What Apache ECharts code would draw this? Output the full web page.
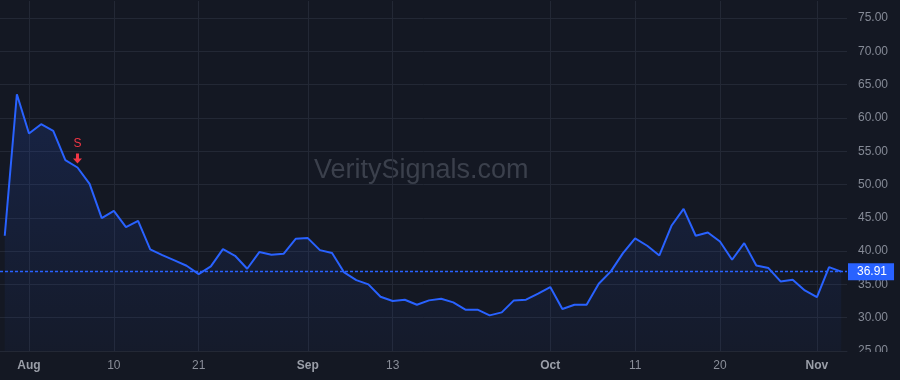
<!DOCTYPE html>
<html>
<head>
<meta charset="utf-8">
<script src="https://cdn.jsdelivr.net/npm/echarts@6/dist/echarts.min.js"></script>
<style>
html,body{margin:0;padding:0;background:#141823;}
#chart{width:900px;height:380px;}
</style>
</head>
<body>
<div id="chart"></div>
<script>
const dates = [
  '2023-07-28','2023-07-31',
  '2023-08-01','2023-08-02','2023-08-03','2023-08-04','2023-08-07','2023-08-08','2023-08-09','2023-08-10','2023-08-11',
  '2023-08-14','2023-08-15','2023-08-16','2023-08-17','2023-08-18','2023-08-21','2023-08-22','2023-08-23','2023-08-24','2023-08-25',
  '2023-08-28','2023-08-29','2023-08-30','2023-08-31',
  '2023-09-01','2023-09-05','2023-09-06','2023-09-07','2023-09-08','2023-09-11','2023-09-12','2023-09-13','2023-09-14','2023-09-15',
  '2023-09-18','2023-09-19','2023-09-20','2023-09-21','2023-09-22','2023-09-25','2023-09-26','2023-09-27','2023-09-28','2023-09-29',
  '2023-10-02','2023-10-03','2023-10-04','2023-10-05','2023-10-06','2023-10-09','2023-10-10','2023-10-11','2023-10-12','2023-10-13',
  '2023-10-16','2023-10-17','2023-10-18','2023-10-19','2023-10-20','2023-10-23','2023-10-24','2023-10-25','2023-10-26','2023-10-27',
  '2023-10-30','2023-10-31','2023-11-01','2023-11-02','2023-11-03'
];
const values = [
  42.3, 63.55,
  57.65, 59.05, 58.05, 53.65, 52.55, 50.1, 44.95, 46.05, 43.6,
  44.55, 40.25, 39.4, 38.6, 37.8, 36.55, 37.7, 40.3, 39.3, 37.35,
  39.85, 39.45, 39.6, 41.85,
  41.95, 40.15, 39.7, 36.8, 35.65, 35.0, 33.15, 32.5, 32.7, 31.95,
  32.6, 32.85, 32.3, 31.2, 31.2, 30.35, 30.8, 32.6, 32.7, 33.6,
  34.6, 31.3, 31.95, 31.95, 35.1, 36.95, 39.7, 41.9, 40.8, 39.35,
  43.8, 46.35, 42.3, 42.8, 41.45, 38.7, 41.2, 37.85, 37.45, 35.45,
  35.7, 34.1, 33.1, 37.6, 36.91
];
const tickDates = ['2023-08-01','2023-08-10','2023-08-21','2023-09-01','2023-09-13','2023-10-02','2023-10-11','2023-10-20','2023-11-01'];
const tickLabels = ['Aug','10','21','Sep','13','Oct','11','20','Nov'];
const monthTicks = ['Aug','Sep','Oct','Nov'];
const yTicks = [25, 30, 35, 40, 45, 50, 55, 60, 65, 70, 75];
const lastValue = 36.91;
const signalDate = '2023-08-07';
const signalText = 'S';
const watermark = 'VeritySignals.com';

const tickIdx = tickDates.map(d => dates.indexOf(d));
const labelMap = {};
tickIdx.forEach((ix, k) => { labelMap[ix] = tickLabels[k]; });
const seriesData = values.map((v, i) => [i, v]);
const sigIdx = dates.indexOf(signalDate);

const BG = '#141823';
const GRID = '#232835';
const BLUE = '#2962ff';
const RED = '#f23645';
const FONT = 'Liberation Sans, Arial, sans-serif';

const chart = echarts.init(document.getElementById('chart'), null, {renderer: 'canvas'});
chart.setOption({
  backgroundColor: BG,
  animation: false,
  grid: {left: 0, right: 53, top: 0, bottom: 29, containLabel: false},
  xAxis: {
    type: 'value',
    min: -0.392,
    max: 69.48,
    axisLine: {show: true, lineStyle: {color: GRID, width: 1}},
    axisTick: {show: false, customValues: tickIdx},
    splitLine: {show: true, lineStyle: {color: GRID, width: 1}},
    axisLabel: {
      customValues: tickIdx,
      margin: 9,
      formatter: function (v) {
        const t = labelMap[Math.round(v)] || '';
        return monthTicks.indexOf(t) >= 0 ? '{b|' + t + '}' : '{n|' + t + '}';
      },
      rich: {
        b: {color: '#9a9ea8', fontWeight: 'bold', fontSize: 12, fontFamily: FONT},
        n: {color: '#8a8e99', fontSize: 12, fontFamily: FONT}
      }
    }
  },
  yAxis: {
    type: 'value',
    position: 'right',
    min: 25,
    max: 77.7,
    interval: 5,
    axisLine: {show: false},
    axisTick: {show: false},
    splitLine: {show: true, lineStyle: {color: GRID, width: 1}},
    axisLabel: {
      margin: 11,
      color: '#858a96',
      fontSize: 12,
      fontFamily: FONT,
      formatter: function (v) {
        return yTicks.indexOf(Math.round(v * 100) / 100) >= 0 ? v.toFixed(2) : '';
      }
    }
  },
  graphic: [
    {
      type: 'text', z: 0,
      left: 314, top: 157,
      style: {text: watermark, fill: '#3b404c', font: '27px "Liberation Sans", Arial, sans-serif'}
    },
    {
      type: 'rect', z: 100,
      shape: {x: 847, y: 352, width: 53, height: 28},
      style: {fill: BG}
    },
    {
      type: 'rect', z: 100,
      shape: {x: 0, y: 0, width: 900, height: 1},
      style: {fill: BG}
    }
  ],
  series: [{
    type: 'line',
    data: seriesData,
    showSymbol: false,
    symbol: 'none',
    lineStyle: {color: BLUE, width: 2},
    itemStyle: {color: BLUE},
    areaStyle: {
      color: new echarts.graphic.LinearGradient(0, 0, 0, 1, [
        {offset: 0, color: 'rgba(41,98,255,0.22)'},
        {offset: 1, color: 'rgba(41,98,255,0.05)'}
      ])
    },
    markLine: {
      symbol: ['none', 'none'],
      silent: true,
      animation: false,
      lineStyle: {color: BLUE, type: [3, 2], width: 1.3, opacity: 1},
      emphasis: {disabled: true},
      label: {
        show: true, position: 'end', distance: 1,
        formatter: lastValue.toFixed(2),
        color: '#ffffff', backgroundColor: BLUE,
        fontSize: 12, fontFamily: FONT,
        padding: [3, 7, 2, 9]
      },
      data: [{
        yAxis: lastValue,
        lineStyle: {color: BLUE, type: [3, 2], width: 1.3, opacity: 1}
      }]
    },
    markPoint: {
      silent: true,
      data: [{
        coord: [sigIdx, values[sigIdx]],
        symbol: 'path://M3,0 L6,0 L6,5 L9,5 L4.5,10 L0,5 L3,5 Z',
        symbolSize: [9, 10],
        symbolOffset: [0, -9],
        itemStyle: {color: RED},
        label: {
          show: true, position: 'top', distance: 4,
          formatter: signalText, color: RED, fontSize: 12,
          fontFamily: FONT
        }
      }]
    }
  }]
});
</script>
</body>
</html>
